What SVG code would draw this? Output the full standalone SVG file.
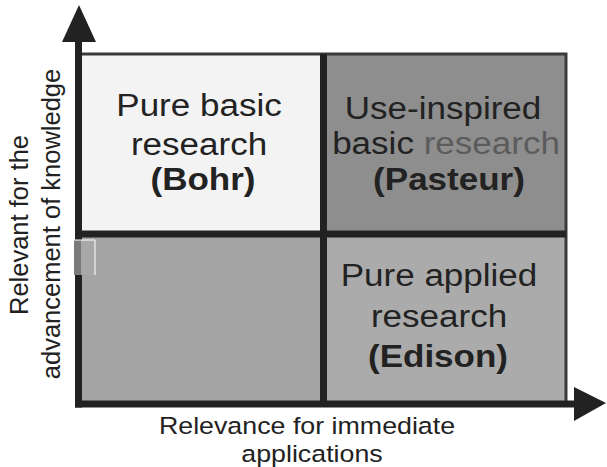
<svg xmlns="http://www.w3.org/2000/svg" width="607" height="467" viewBox="0 0 607 467">
<style>
  .q { font-family: "Liberation Sans", Arial, sans-serif; font-size: 31px; fill: #222; text-anchor: middle; }
  .b { font-weight: bold; }
  .ax { font-family: "Liberation Sans", Arial, sans-serif; font-size: 25.5px; fill: #222; text-anchor: middle; }
  .axx { font-family: "Liberation Sans", Arial, sans-serif; font-size: 23.5px; fill: #222; text-anchor: middle; }
  .frame { fill: none; stroke: #3a3a3a; stroke-width: 3; }
  .axis { stroke: #222; stroke-width: 7; fill: none; }
  .div { stroke: #222; stroke-width: 7; }
  .head { fill: #222; }
</style>
<rect width="607" height="467" fill="#ffffff"/>

<g id="q-pure-basic">
  <rect x="79" y="54" width="245" height="180" fill="#f3f3f3"/>
  <text class="q" transform="translate(199,116) scale(1.13,1)">Pure basic</text>
  <text class="q" transform="translate(199,155) scale(1.13,1)">research</text>
  <text class="q b" transform="translate(203,190) scale(1.13,1)">(Bohr)</text>
</g>

<g id="q-use-inspired">
  <rect x="324" y="54" width="242" height="180" fill="#8e8e8e"/>
  <text class="q" transform="translate(443,119) scale(1.13,1)">Use-inspired</text>
  <text class="q" transform="translate(446,154) scale(1.13,1)">basic <tspan fill="#5c5c5c">research</tspan></text>
  <text class="q b" transform="translate(449,190) scale(1.13,1)">(Pasteur)</text>
</g>

<g id="q-empty">
  <rect x="79" y="234" width="245" height="170" fill="#a4a4a4"/>
</g>

<g id="q-pure-applied">
  <rect x="324" y="234" width="242" height="170" fill="#ababab"/>
  <text class="q" transform="translate(439,286) scale(1.13,1)">Pure applied</text>
  <text class="q" transform="translate(439,327) scale(1.13,1)">research</text>
  <text class="q b" transform="translate(438,367) scale(1.13,1)">(Edison)</text>
</g>

<g id="connectors">
  <polyline class="frame" points="79,54 566,54 566,404"/>
  <line class="div" x1="323.5" y1="54" x2="323.5" y2="404"/>
  <line class="div" x1="79" y1="234" x2="566" y2="234"/>
  <line class="axis" x1="78.5" y1="40" x2="78.5" y2="407.5"/>
  <line class="axis" x1="75" y1="404" x2="578" y2="404"/>
  <polygon class="head" points="79,5 96,42 62,42"/>
  <polygon class="head" points="606,403 574,387 574,421"/>
</g>

<g id="scan-patch">
  <rect x="74" y="240" width="21" height="35" fill="#7a7a7a"/>
  <rect x="81" y="240" width="14" height="35" fill="#a8a8a8"/>
  <polyline points="74,240 95,240 95,275" fill="none" stroke="#ffffff" stroke-width="1"/>
</g>

<g id="label-y">
  <text class="ax" transform="translate(28,225) rotate(-90)">Relevant for the</text>
  <text class="ax" transform="translate(60,224) rotate(-90)">advancement of knowledge</text>
</g>

<g id="label-x">
  <text class="axx" transform="translate(307,434) scale(1.14,1)">Relevance for immediate</text>
  <text class="axx" transform="translate(312,462) scale(1.14,1)">applications</text>
</g>
</svg>
